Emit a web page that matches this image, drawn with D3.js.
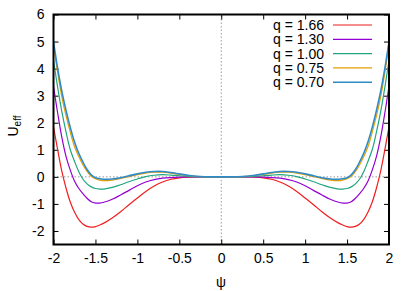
<!DOCTYPE html>
<html>
<head>
<meta charset="utf-8">
<script src="https://cdn.jsdelivr.net/npm/d3@7"></script>
<style>
html,body{margin:0;padding:0;background:#fff;}
svg{display:block;font-family:"Liberation Sans",Arial,Helvetica,sans-serif;}
</style>
</head>
<body>
<svg id="chart" width="415" height="291"></svg>
<script>
// ---- data ----
const psi = [-2,-1.95,-1.9,-1.85,-1.8,-1.75,-1.7,-1.65,-1.6,-1.55,-1.5,-1.45,-1.4,-1.3,-1.2,-1.1,-1,-0.9,-0.8,-0.7,-0.6,-0.5,-0.4,-0.3,-0.2,-0.1,0,0.1,0.2,0.3,0.4,0.5,0.6,0.7,0.8,0.9,1,1.1,1.2,1.3,1.4,1.45,1.5,1.55,1.6,1.65,1.7,1.75,1.8,1.85,1.9,1.95,2];
const seriesLabels = ["q = 1.66","q = 1.30","q = 1.00","q = 0.75","q = 0.70"];
const u166 = [1.85,1.0,0.2,-0.42,-0.93,-1.3,-1.57,-1.74,-1.83,-1.86,-1.84,-1.78,-1.71,-1.52,-1.29,-1.03,-0.78,-0.54,-0.34,-0.19,-0.09,-0.035,-0.012,-0.003,0,0,0,0,0,-0.003,-0.012,-0.035,-0.09,-0.19,-0.34,-0.54,-0.78,-1.03,-1.29,-1.52,-1.71,-1.78,-1.84,-1.86,-1.83,-1.74,-1.57,-1.3,-0.93,-0.42,0.2,1.0,1.85];
const u130 = [3.35,2.35,1.45,0.75,0.25,-0.15,-0.42,-0.62,-0.79,-0.92,-0.97,-0.97,-0.94,-0.83,-0.67,-0.5,-0.33,-0.19,-0.1,-0.05,-0.025,-0.01,-0.003,0,0,0,0,0,0,0,-0.003,-0.01,-0.025,-0.05,-0.1,-0.19,-0.33,-0.5,-0.67,-0.83,-0.94,-0.97,-0.97,-0.92,-0.79,-0.62,-0.42,-0.15,0.25,0.75,1.45,2.35,3.35];
const u100 = [4.3,3.3,2.4,1.65,1.0,0.58,0.2,-0.08,-0.26,-0.37,-0.43,-0.45,-0.45,-0.39,-0.29,-0.18,-0.08,0.01,0.06,0.08,0.065,0.04,0.02,0.008,0.002,0,0,0,0.002,0.008,0.02,0.04,0.065,0.08,0.06,0.01,-0.08,-0.18,-0.29,-0.39,-0.45,-0.45,-0.43,-0.37,-0.26,-0.08,0.2,0.58,1.0,1.65,2.4,3.3,4.3];
const u075 = [4.85,3.85,2.95,2.25,1.65,1.12,0.76,0.45,0.2,0.02,-0.07,-0.12,-0.14,-0.12,-0.06,0.01,0.08,0.14,0.17,0.17,0.14,0.09,0.05,0.02,0.004,0,0,0,0.004,0.02,0.05,0.09,0.14,0.17,0.17,0.14,0.08,0.01,-0.06,-0.12,-0.14,-0.12,-0.07,0.02,0.2,0.45,0.76,1.12,1.65,2.25,2.95,3.85,4.85];
const u070 = [5.0,4.0,3.15,2.45,1.83,1.3,0.88,0.55,0.27,0.07,-0.03,-0.07,-0.09,-0.08,-0.03,0.04,0.11,0.17,0.2,0.2,0.16,0.11,0.06,0.025,0.005,0,0,0,0.005,0.025,0.06,0.11,0.16,0.2,0.2,0.17,0.11,0.04,-0.03,-0.08,-0.09,-0.07,-0.03,0.07,0.27,0.55,0.88,1.3,1.83,2.45,3.15,4.0,5.0];
const xTicks = [-2,-1.5,-1,-0.5,0,0.5,1,1.5,2];
const yTicks = [-2,-1,0,1,2,3,4,5,6];

const seriesValues = [u166,u130,u100,u075,u070];
const colors = ["#f01e1e","#9400d3","#1fa57f","#e69f00","#2f8bc6"];
const widths = [1.2,1.2,1.2,1.2,1.6];

// ---- layout ----
const W = 415, H = 291;
const m = {left:53.5, right:26, top:14.5, bottom:46.5};
const svg = d3.select("#chart");
const x = d3.scaleLinear().domain([-2,2]).range([m.left, W-m.right]);
const y = d3.scaleLinear().domain([-2.5,6]).range([H-m.bottom, m.top]);
const fmt = d => String(d);

svg.append("defs").append("clipPath").attr("id","clip")
  .append("rect").attr("x",m.left).attr("y",m.top)
  .attr("width",W-m.left-m.right).attr("height",H-m.top-m.bottom);

// zero axes (dotted)
svg.append("line").attr("x1",x(-2)).attr("x2",x(2)).attr("y1",y(0)).attr("y2",y(0))
  .attr("stroke","#999").attr("stroke-width",1).attr("stroke-dasharray","1.5,2");
svg.append("line").attr("x1",x(0)).attr("x2",x(0)).attr("y1",y(-2.5)).attr("y2",y(6))
  .attr("stroke","#999").attr("stroke-width",1).attr("stroke-dasharray","1.5,2");

// axes with inward ticks
const tl = 5;
const gB = svg.append("g").attr("transform",`translate(0,${H-m.bottom})`)
  .call(d3.axisBottom(x).tickValues(xTicks).tickFormat(fmt).tickSizeInner(-tl).tickSizeOuter(0).tickPadding(9));
const gT = svg.append("g").attr("transform",`translate(0,${m.top})`)
  .call(d3.axisTop(x).tickValues(xTicks).tickFormat("").tickSizeInner(-tl).tickSizeOuter(0));
const gL = svg.append("g").attr("transform",`translate(${m.left},0)`)
  .call(d3.axisLeft(y).tickValues(yTicks).tickFormat(fmt).tickSizeInner(-tl).tickSizeOuter(0).tickPadding(9));
const gR = svg.append("g").attr("transform",`translate(${W-m.right},0)`)
  .call(d3.axisRight(y).tickValues(yTicks).tickFormat("").tickSizeInner(-tl).tickSizeOuter(0));
[gB,gT,gL,gR].forEach(g=>{
  g.select(".domain").remove();
  g.selectAll(".tick line").attr("stroke","#000").attr("stroke-width",1);
  g.selectAll("text").attr("font-size",14).attr("fill","#000")
    .attr("font-family","'Liberation Sans',Arial,Helvetica,sans-serif");
});

// curves
const line = d3.line().x((d,i)=>x(psi[i])).y(d=>y(d)).curve(d3.curveCatmullRom.alpha(0.5));
const gc = svg.append("g").attr("clip-path","url(#clip)");
seriesValues.forEach((vals,k)=>{
  gc.append("path").datum(vals).attr("d",line).attr("fill","none")
    .attr("stroke",colors[k]).attr("stroke-width",widths[k]);
});

// border
svg.append("rect").attr("x",m.left).attr("y",m.top)
  .attr("width",W-m.left-m.right).attr("height",H-m.top-m.bottom)
  .attr("fill","none").attr("stroke","#000").attr("stroke-width",2);

// legend
const lg = svg.append("g");
seriesLabels.forEach((lab,k)=>{
  const yy = 25 + k*14.3;
  lg.append("text").attr("x",324).attr("y",yy).attr("dy","0.35em")
    .attr("text-anchor","end").attr("font-size",14).attr("fill","#000").text(lab);
  lg.append("line").attr("x1",333).attr("x2",372).attr("y1",yy).attr("y2",yy)
    .attr("stroke",colors[k]).attr("stroke-width",widths[k]);
});

// axis titles
svg.append("text").attr("x",221).attr("y",287).attr("text-anchor","middle")
  .attr("font-size",14).text("ψ");
const yl = svg.append("text").attr("transform","translate(18,126) rotate(-90)")
  .attr("text-anchor","middle").attr("font-size",14);
yl.append("tspan").text("U");
yl.append("tspan").attr("font-size",10).attr("dy",3).text("eff");
</script>
</body>
</html>
